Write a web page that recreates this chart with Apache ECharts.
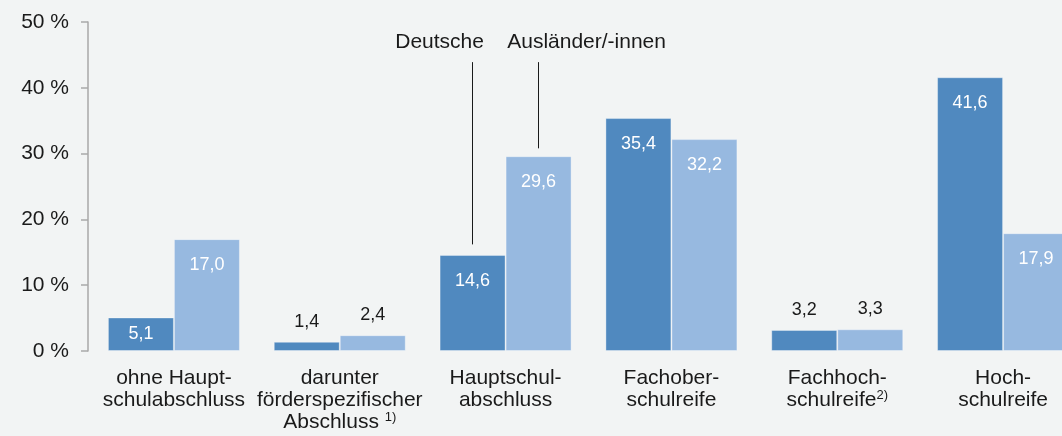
<!DOCTYPE html>
<html>
<head>
<meta charset="utf-8">
<script src="https://cdn.jsdelivr.net/npm/echarts@6/dist/echarts.min.js"></script>
<style>
  html, body { margin: 0; padding: 0; background: #f2f4f4; }
  #chart { width: 1062px; height: 436px; }
</style>
</head>
<body>
<div id="chart"></div>
<script>
// Kategorien (x-Achse)
var categories = [
  'ohne Haupt-\nschulabschluss',
  'darunter\nförderspezifischer\nAbschluss {sup|1)}',
  'Hauptschul-\nabschluss',
  'Fachober-\nschulreife',
  'Fachhoch-\nschulreife{sup|2)}',
  'Hoch-\nschulreife'
]
// Werte in %
var deutsche = [5.1, 1.4, 14.6, 35.4, 3.2, 41.6]
var auslaender = [17.0, 2.4, 29.6, 32.2, 3.3, 17.9]
var yTicks = [0, 10, 20, 30, 40, 50]

var chart = echarts.init(document.getElementById('chart'))

function fmt(v) {
  return v.toFixed(1).replace('.', ',')
}
// Beschriftung: klein -> über dem Balken, sonst im Balken
function toItems(values) {
  return values.map(function(v) {
    if (v < 4) {
      return { value: v, label: { position: 'top', distance: 11, color: '#1a1a1a' } }
    }
    if (v < 8) {
      return { value: v, label: { position: 'inside' } }
    }
    return v
  })
}

var barLabel = {
  show: true,
  position: 'insideTop',
  distance: 17,
  color: '#ffffff',
  fontSize: 18,
  fontFamily: 'Liberation Sans',
  formatter: function(p) { return fmt(p.value) }
}

var option = {
  backgroundColor: '#f2f4f4',
  animation: false,
  grid: {
    left: 91,
    width: 995,
    top: 22,
    bottom: 85,
    containLabel: false,
    outerBoundsMode: 'none'
  },
  xAxis: {
    type: 'category',
    data: categories,
    axisLine: { show: false },
    axisTick: { show: false },
    axisLabel: {
      interval: 0,
      margin: 16,
      color: '#1a1a1a',
      fontSize: 21,
      lineHeight: 22,
      fontFamily: 'Liberation Sans',
      rich: {
        sup: { fontSize: 13, verticalAlign: 'top', lineHeight: 22, padding: [0, 0, 10, 0], color: '#1a1a1a', fontFamily: 'Liberation Sans' }
      }
    }
  },
  yAxis: {
    type: 'value',
    min: yTicks[0],
    max: yTicks[yTicks.length - 1],
    interval: 10,
    offset: 3,
    axisLine: { show: true, lineStyle: { color: '#a9a9a9', width: 1.5 } },
    axisTick: { show: true, length: 7, lineStyle: { color: '#a9a9a9', width: 1.5 } },
    splitLine: { show: false },
    axisLabel: {
      margin: 19,
      color: '#1a1a1a',
      fontSize: 21,
      fontFamily: 'Liberation Sans',
      formatter: '{value} %'
    }
  },
  series: [
    {
      name: 'Deutsche',
      type: 'bar',
      barWidth: 66,
      barGap: '0%',
      data: toItems(deutsche),
      itemStyle: { color: '#5089bf', borderColor: 'rgba(255,255,255,0.35)', borderWidth: 1 },
      label: barLabel,
      markLine: {
        silent: true,
        symbol: 'none',
        label: { show: false },
        lineStyle: { color: '#1a1a1a', type: 'solid', width: 1 },
        data: [[{ coord: [2, 16.2] }, { coord: [2, 43.9] }]]
      },
      markPoint: {
        symbolSize: 0,
        label: {
          show: true,
          formatter: 'Deutsche',
          color: '#1a1a1a',
          fontSize: 21,
          fontFamily: 'Liberation Sans',
          offset: [-33, 0]
        },
        data: [{ coord: [2, 46.9] }]
      }
    },
    {
      name: 'Ausländer/-innen',
      type: 'bar',
      barWidth: 66,
      barGap: '0%',
      data: toItems(auslaender),
      itemStyle: { color: '#97b9e0', borderColor: 'rgba(255,255,255,0.35)', borderWidth: 1 },
      label: barLabel,
      markLine: {
        silent: true,
        symbol: 'none',
        label: { show: false },
        lineStyle: { color: '#1a1a1a', type: 'solid', width: 1 },
        data: [[{ coord: [2, 30.8] }, { coord: [2, 43.9] }]]
      },
      markPoint: {
        symbolSize: 0,
        label: {
          show: true,
          formatter: 'Ausländer/-innen',
          color: '#1a1a1a',
          fontSize: 21,
          fontFamily: 'Liberation Sans',
          offset: [48, 0]
        },
        data: [{ coord: [2, 46.9] }]
      }
    }
  ]
}

chart.setOption(option)
</script>
</body>
</html>
